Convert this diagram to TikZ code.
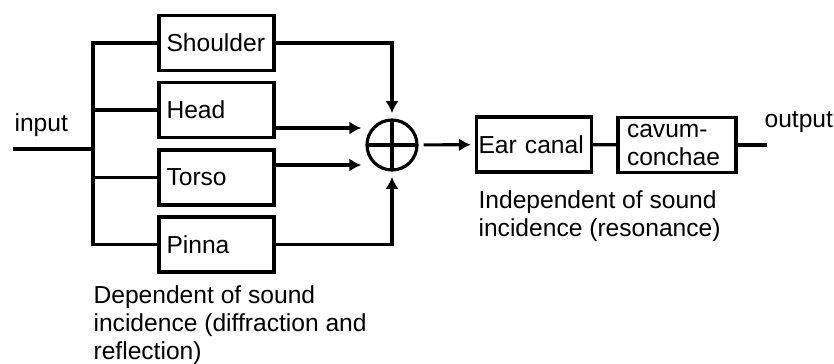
\documentclass[tikz,border=0pt]{standalone}
\usepackage{fontspec}
\setmainfont{Liberation Sans}
\usetikzlibrary{arrows.meta,positioning,calc}

\begin{document}
\begin{tikzpicture}[>={Latex[length=0.24cm,width=0.26cm]},line width=1.8pt,
  font=\fontsize{14}{16}\selectfont,
  blk/.style={draw,minimum width=2.3cm,minimum height=1.1cm,align=left,text width=2cm,inner xsep=0.15cm,inner ysep=1pt},
  sum/.style={draw,circle,minimum size=1cm,inner sep=0pt,
    path picture={\draw (path picture bounding box.north) -- (path picture bounding box.south)
                        (path picture bounding box.west) -- (path picture bounding box.east);}},
  txt/.style={align=left,inner sep=0pt,anchor=north west}]
  \useasboundingbox (0,0) rectangle (16.68,-7.26);
  % filter blocks
  \node[blk] (shoulder) at (4.33,-0.86) {Shoulder};
  \node[blk] (head) at (4.33,-2.2) {Head};
  \node[blk] (torso) at (4.33,-3.55) {Torso};
  \node[blk] (pinna) at (4.33,-4.89) {Pinna};
  \node[sum] (sum) at (7.84,-2.9) {};
  \node[blk,text width=2.22cm,inner xsep=0.04cm] (ear) at (10.68,-2.89) {Ear canal};
  \node[blk,inner xsep=0.18cm] (cavum) at (13.54,-2.9) {cavum-\\conchae};
  \coordinate (in) at (0.26,-2.98);  \coordinate (bus) at (1.86,-2.98);
  \coordinate (out) at (15.34,-2.9);
  % labels
  \node[anchor=west,inner sep=0pt] (inlbl) at (0.26,-2.5) {input};
  \node[anchor=west,inner sep=0pt] (outlbl) at (15.26,-2.44) {output};
  \node[txt] (dep) at (1.84,-5.68) {Dependent of sound\\incidence (diffraction and\\reflection)};
  \node[txt] (indep) at (9.54,-3.78) {Independent of sound\\incidence (resonance)};
  % connections
  \draw (in) -- (bus);
  \draw (shoulder.west) -| (bus) |- (pinna.west);
  \draw (head.west) -- (head.west -| bus);  \draw (torso.west) -- (torso.west -| bus);
  \draw[->,shorten >=3pt] (shoulder.east) -| (sum.north);
  \draw[->,shorten >=0.08cm] ([yshift=-0.36cm]head.east) -- ([yshift=-0.36cm]head.east -| sum.west);
  \draw[->,shorten >=0.08cm] ([yshift=0.25cm]torso.east) -- ([yshift=0.25cm]torso.east -| sum.west);
  \draw[->,shorten >=3pt] (pinna.east) -| (sum.south);
  \draw[->,shorten <=0.1cm,shorten >=0.08cm] (sum) -- (ear);
  \draw (ear) -- (cavum);  \draw (cavum) -- (out);
\end{tikzpicture}
\end{document}
